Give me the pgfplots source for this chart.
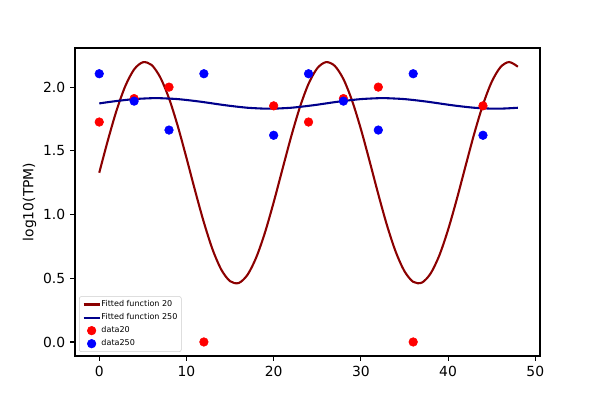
\documentclass[border=0pt]{standalone}
\usepackage{pgfplots}
\pgfplotsset{compat=1.18}
\usepackage{fontspec}
\setmainfont{DejaVu Sans}
\definecolor{dred}{HTML}{8B0000}
\definecolor{dblue}{HTML}{00008B}
\begin{document}
\begin{tikzpicture}
\path[use as bounding box] (-54pt,-31.68pt) rectangle (378pt,256.32pt);
\begin{axis}[
  at={(0,0)}, anchor=south west,
  scale only axis, width=334.8pt, height=221.76pt,
  xmin=-2.78, xmax=50.54, ymin=-0.11, ymax=2.307,
  xtick={0,10,20,30,40,50}, ytick={0,0.5,1.0,1.5,2.0},
  yticklabel style={/pgf/number format/.cd, fixed, fixed zerofill, precision=1},
  /pgf/number format/assume math mode=true,
  tick align=outside, xtick pos=bottom, ytick pos=left,
  major tick length=3.5pt,
  tick style={black, line width=0.8pt},
  axis line style={line width=0.8pt},
  ticklabel style={font=\fontsize{10}{12}\selectfont},
  ylabel={log10(TPM)},
  ylabel style={font=\fontsize{10}{12}\selectfont},
  ylabel shift=-2pt,
  legend image code/.code={\draw[mark repeat=2,mark phase=2,#1] plot coordinates {(0cm,0cm) (0.205cm,0cm) (0.41cm,0cm)};},
  legend cell align=left,
  legend style={at={(0,0)}, xshift=2.9pt, yshift=2.9pt, anchor=south west,
    font=\fontsize{5.79}{6.5}\selectfont,
    draw=black!20, rounded corners=1.5pt, fill=white,
    inner xsep=2.3pt, inner ysep=2.4pt, row sep=2.7pt,
    nodes={inner sep=0.5pt, text height=4.4pt, text depth=1.3pt}},
]
\addplot[only marks, mark=*, mark size=3.1pt, color=red, mark options={draw=none, fill=red}, forget plot]
  coordinates {(0,1.726)(4,1.91)(8,2.0)(12,0)(20,1.853)(24,1.726)(28,1.91)(32,2.0)(36,0)(44,1.853)};
\addplot[only marks, mark=*, mark size=3.1pt, color=blue, mark options={draw=none, fill=blue}, forget plot]
  coordinates {(0,2.105)(4,1.89)(8,1.663)(12,2.105)(20,1.622)(24,2.105)(28,1.89)(32,1.663)(36,2.105)(44,1.622)};
\addplot[dred, line width=1.5pt, smooth, mark=none] coordinates {
(0,1.328)(1,1.585)(2,1.820)(3,2.010)(4,2.139)(5,2.195)(6,2.174)(7,2.076)(8,1.912)(9,1.695)
(10,1.445)(11,1.185)(12,0.938)(13,0.725)(14,0.567)(15,0.477)(16,0.463)(17,0.527)(18,0.663)(19,0.858)
(20,1.096)(21,1.354)(22,1.610)(23,1.841)(24,2.026)(25,2.148)(26,2.196)(27,2.167)(28,2.063)(29,1.892)
(30,1.671)(31,1.419)(32,1.159)(33,0.914)(34,0.707)(35,0.555)(36,0.472)(37,0.466)(38,0.538)(39,0.680)
(40,0.881)(41,1.121)(42,1.380)(43,1.635)(44,1.862)(45,2.041)(46,2.156)(47,2.197)(48,2.160)};
\addlegendentry{Fitted function 20}
\addplot[dblue, line width=1.5pt, smooth, mark=none] coordinates {
(0,1.872)(1,1.882)(2,1.891)(3,1.899)(4,1.906)(5,1.910)(6,1.913)(7,1.913)(8,1.910)(9,1.906)
(10,1.899)(11,1.891)(12,1.882)(13,1.872)(14,1.862)(15,1.853)(16,1.845)(17,1.838)(18,1.834)(19,1.831)
(20,1.831)(21,1.834)(22,1.838)(23,1.845)(24,1.853)(25,1.862)(26,1.872)(27,1.882)(28,1.891)(29,1.899)
(30,1.906)(31,1.910)(32,1.913)(33,1.913)(34,1.910)(35,1.906)(36,1.899)(37,1.891)(38,1.882)(39,1.872)
(40,1.862)(41,1.853)(42,1.845)(43,1.838)(44,1.834)(45,1.831)(46,1.831)(47,1.834)(48,1.838)};
\addlegendentry{Fitted function 250}
\addlegendimage{only marks, mark=*, mark size=3.1pt, color=red, mark options={draw=none, fill=red}}
\addlegendentry{data20}
\addlegendimage{only marks, mark=*, mark size=3.1pt, color=blue, mark options={draw=none, fill=blue}}
\addlegendentry{data250}
\end{axis}
\end{tikzpicture}
\end{document}
